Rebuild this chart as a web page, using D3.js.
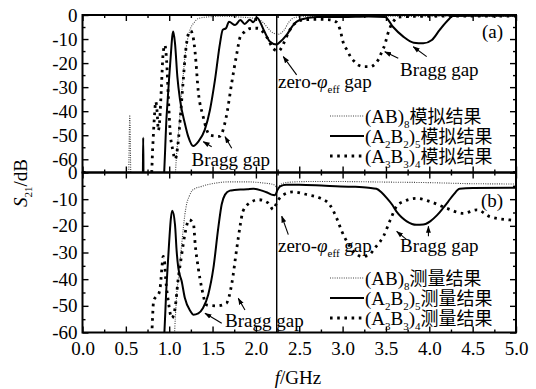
<!DOCTYPE html>
<html><head><meta charset="utf-8">
<script src="https://cdn.jsdelivr.net/npm/d3@7"></script>
<style>body{margin:0;background:#fff}svg{display:block}
svg text{font-family:"Liberation Serif","DejaVu Serif",serif;}
</style>
</head><body><svg id="c" width="536" height="389"></svg>
<script>
// ---------- DATA ----------
// (a) simulation
const simAB_f  = [0,0.53,0.545,0.56,1.06,1.085,1.105,1.125,1.144,1.162,1.182,1.21,1.24,1.29,1.34,1.45,1.6,1.8,2.0,2.08,2.14,2.2,2.26,2.32,2.38,2.45,2.6,3.0,3.5,4.0,4.5,5.0];
const simAB_db = [-70,-70,-41.6,-70,-70,-58,-50,-41,-32.6,-25,-17.3,-10.5,-6.2,-3,-1.4,-0.8,-0.5,-0.8,-1.5,-3,-5.5,-7.5,-8,-6.5,-3,-1,-0.6,-0.5,-0.5,-0.6,-0.5,-0.5];

const simA2_f  = [0,0.695,0.70,0.705,0.93,0.97,1.0,1.02,1.035,1.047,1.067,1.094,1.125,1.18,1.22,1.278,1.336,1.41,1.47,1.528,1.586,1.617,1.655,1.69,1.76,1.82,1.87,1.93,1.97,2.01,2.09,2.16,2.24,2.26,2.355,2.43,2.51,2.7,3.0,3.3,3.49,3.58,3.7,3.82,3.93,4.03,4.12,4.22,4.27,4.5,5.0];
const simA2_db = [-70,-70,-51,-70,-70,-42,-25.8,-16,-9,-6.9,-11.8,-25.6,-35.3,-45,-50.6,-54.5,-52.7,-47.8,-39.5,-27,-11.8,-6.2,-5.5,-2.8,-4.2,-2.1,-3.7,-2,-3,-1,-6.2,-11,-12.3,-11.8,-8.3,-4.2,-2,-0.8,-0.8,-0.6,-0.8,-4.9,-9,-11.5,-11.8,-10.4,-6.2,-2,-0.4,-0.3,-0.3];

const simA3_f  = [0,0.79,0.81,0.83,0.845,0.86,0.875,0.89,0.91,0.93,0.95,0.97,0.99,1.01,1.04,1.07,1.10,1.13,1.16,1.19,1.22,1.245,1.275,1.30,1.336,1.39,1.47,1.58,1.66,1.72,1.78,1.82,1.87,1.95,2.02,2.08,2.14,2.2,2.26,2.32,2.38,2.45,2.55,2.7,2.85,2.93,2.97,3.01,3.05,3.09,3.14,3.18,3.25,3.32,3.37,3.41,3.45,3.49,3.52,3.55,3.59,3.63,3.8,4.2,4.6,5.0];
const simA3_db = [-70,-70,-55,-42,-36,-40,-48,-44,-30,-16,-12.5,-19,-34,-48,-56,-60,-54,-42,-28,-15,-8,-6.5,-9,-16,-32,-42,-50,-50.5,-42,-28.5,-16,-9,-7,-5.5,-5.5,-7,-10,-14,-15,-11.8,-7,-3.5,-2,-1.8,-2,-3,-6,-11.8,-14.5,-17.3,-19.5,-20.8,-21.5,-21.5,-20.5,-18.7,-15.5,-12,-8,-5,-2.5,-1,-0.6,-0.5,-0.5,-0.5];

// (b) measurement
const meaAB_f  = [0,1.05,1.07,1.086,1.105,1.125,1.144,1.163,1.18,1.2,1.23,1.26,1.3,1.375,1.45,1.55,1.7,1.9,2.1,2.2,2.25,2.3,2.4,2.6,3.0,3.5,4.0,4.5,5.0];
const meaAB_db = [-65,-65,-55,-45.8,-40,-33.3,-27,-20.8,-16,-12,-9,-7,-6,-5.2,-4.5,-3.9,-3.5,-3.5,-4,-4.5,-5.5,-4.2,-3.6,-3.4,-3.4,-3.6,-3.8,-4.2,-4.3];

const meaA2_f  = [0,0.93,0.97,1.0,1.02,1.036,1.067,1.086,1.105,1.144,1.18,1.245,1.278,1.336,1.39,1.45,1.51,1.566,1.605,1.644,1.70,1.75,1.82,1.9,1.97,2.07,2.13,2.18,2.22,2.25,2.28,2.35,2.5,2.8,3.1,3.3,3.39,3.45,3.51,3.57,3.62,3.68,3.74,3.85,3.93,4.01,4.09,4.16,4.22,4.28,4.35,4.5,5.0];
const meaA2_db = [-65,-65,-42,-25.8,-17,-14.3,-19.6,-29.5,-35.8,-40.8,-47,-52,-53.3,-52.8,-50.8,-45.8,-35.8,-20.8,-12,-8.3,-6.8,-6.6,-6.4,-6.3,-6.1,-6.8,-7.5,-8.3,-8.5,-6.5,-5.2,-4.6,-4.6,-5,-5.3,-5.7,-6.1,-7.5,-9.6,-12,-14.6,-16.8,-18.3,-19.6,-19.5,-18.3,-16,-13.3,-10.8,-8.3,-6.1,-5.8,-5.7];

const meaA3_f  = [0,0.79,0.80,0.82,0.85,0.875,0.90,0.915,0.93,0.945,0.96,0.99,1.03,1.067,1.105,1.144,1.18,1.23,1.28,1.30,1.335,1.375,1.43,1.55,1.66,1.72,1.78,1.82,1.85,1.93,2.03,2.14,2.2,2.22,2.26,2.32,2.43,2.59,2.74,2.85,2.93,2.99,3.07,3.14,3.22,3.3,3.38,3.47,3.55,3.62,3.7,3.85,4.01,4.2,4.39,4.55,4.7,4.93,5.0];
const meaA3_db = [-65,-65,-60,-48.3,-46.5,-45.8,-42,-36,-31.5,-33,-40,-48.3,-54.6,-51,-39.6,-30.8,-23.3,-17.7,-19.3,-27,-35.8,-43.3,-49.6,-50,-49,-42,-28.3,-19.6,-14.6,-11.4,-10.2,-11.4,-13.9,-12.7,-10.2,-8.3,-7.3,-8.3,-9.6,-12,-17,-22,-27,-30,-31.5,-31,-28,-24,-17.8,-12.8,-10.9,-9.7,-10.9,-13.4,-15.3,-14,-16.6,-17.8,-18];

const xTicks = [0,0.5,1.0,1.5,2.0,2.5,3.0,3.5,4.0,4.5,5.0];
const yTicks = [0,-10,-20,-30,-40,-50,-60];
const zeroGapF = 2.24;
const legendSim = ["(AB)|8|模拟结果", "(A|2|B|2|)|5|模拟结果", "(A|3|B|3|)|4|模拟结果"];
const legendMea = ["(AB)|8|测量结果", "(A|2|B|2|)|5|测量结果", "(A|3|B|3|)|4|测量结果"];

// ---------- LAYOUT ----------
const svg = d3.select("#c");
const SERIF = '"Liberation Serif","DejaVu Serif",serif';
const CJK = '"Noto Sans CJK SC","Noto Sans CJK JP",sans-serif';
const FS = 19;
const x = d3.scaleLinear().domain([0,5]).range([82.5,516]);
const yTop = d3.scaleLinear().domain([-65.5,0]).range([172.5,15]);
const yBot = d3.scaleLinear().domain([-60,0]).range([332.5,172.5]);

const defs = svg.append("defs");
defs.append("clipPath").attr("id","clipTop").append("rect")
  .attr("x",x(0)).attr("y",yTop(0)).attr("width",x(5)-x(0)).attr("height",yTop(-65.5)-yTop(0));
defs.append("clipPath").attr("id","clipBot").append("rect")
  .attr("x",x(0)).attr("y",yBot(0)).attr("width",x(5)-x(0)).attr("height",yBot(-60)-yBot(0));
defs.append("marker").attr("id","arr").attr("viewBox","0 0 10 10").attr("refX",9).attr("refY",5)
  .attr("markerWidth",7).attr("markerHeight",7).attr("markerUnits","userSpaceOnUse").attr("orient","auto")
  .append("path").attr("d","M0,1.5L10,5L0,8.5Z").attr("fill","#000");

const zip = (a,b)=>a.map((v,i)=>[v,b[i]]);
const styles = {
  AB:{w:1.1, dash:"1,1.3", col:"#444"},
  A2:{w:2, dash:null, col:"#000"},
  A3:{w:2.8, dash:"2.6,4.6", col:"#000"}
};

function drawPanel(y, clip, series){
  const g = svg.append("g").attr("clip-path",`url(#${clip})`);
  const line = d3.line().x(d=>x(d[0])).y(d=>y(d[1])).curve(d3.curveMonotoneX);
  series.forEach(s=>{
    const st = styles[s.key];
    g.append("path").datum(zip(s.f,s.db)).attr("d",line)
      .attr("fill","none").attr("stroke",st.col).attr("stroke-width",st.w)
      .attr("stroke-dasharray",st.dash).attr("stroke-linejoin","round");
  });
}
drawPanel(yTop,"clipTop",[{key:"AB",f:simAB_f,db:simAB_db},{key:"A2",f:simA2_f,db:simA2_db},{key:"A3",f:simA3_f,db:simA3_db}]);
drawPanel(yBot,"clipBot",[{key:"AB",f:meaAB_f,db:meaAB_db},{key:"A2",f:meaA2_f,db:meaA2_db},{key:"A3",f:meaA3_f,db:meaA3_db}]);

svg.append("line").attr("x1",x(zeroGapF)).attr("x2",x(zeroGapF)).attr("y1",yTop(0)).attr("y2",yBot(-60))
  .attr("stroke","#000").attr("stroke-width",1.4);

// ---------- AXES ----------
const minorX = d3.range(0.25,5,0.5);
function styleAxis(g){ g.attr("font-family",null).attr("font-size",null);
  g.select(".domain").remove(); g.selectAll("line").attr("stroke","#000").attr("stroke-width",1.4);
  g.selectAll("text").style("font-family",SERIF).style("font-size",FS+"px").attr("fill","#000"); }
function xAxes(yPos, gen, labels){
  svg.append("g").attr("transform",`translate(0,${yPos})`)
    .call(gen(x).tickValues(xTicks).tickSizeInner(-6).tickSizeOuter(0).tickPadding(9)
      .tickFormat(labels? d3.format(".1f") : ()=>""))
    .call(styleAxis);
  svg.append("g").attr("transform",`translate(0,${yPos})`)
    .call(gen(x).tickValues(minorX).tickSizeInner(-3).tickSizeOuter(0).tickFormat(()=>""))
    .call(styleAxis);
}
xAxes(yTop(0), d3.axisTop, false);
xAxes(yTop(-65.5), d3.axisBottom, false);
xAxes(yBot(0), d3.axisTop, false);
xAxes(yBot(-60), d3.axisBottom, true);

function yAxes(y, lo){
  const minor = d3.range(-5, lo, -10);
  svg.append("g").attr("transform",`translate(${x(0)},0)`)
    .call(d3.axisLeft(y).tickValues(yTicks).tickSizeInner(-6).tickSizeOuter(0).tickPadding(5).tickFormat(d=>String(d)))
    .call(styleAxis);
  svg.append("g").attr("transform",`translate(${x(0)},0)`)
    .call(d3.axisLeft(y).tickValues(minor).tickSizeInner(-3).tickSizeOuter(0).tickFormat(()=>""))
    .call(styleAxis);
  svg.append("g").attr("transform",`translate(${x(5)},0)`)
    .call(d3.axisRight(y).tickValues(yTicks).tickSizeInner(-6).tickSizeOuter(0).tickFormat(()=>""))
    .call(styleAxis);
  svg.append("g").attr("transform",`translate(${x(5)},0)`)
    .call(d3.axisRight(y).tickValues(minor).tickSizeInner(-3).tickSizeOuter(0).tickFormat(()=>""))
    .call(styleAxis);
}
yAxes(yTop,-65.5);
yAxes(yBot,-60);

[[yTop(0),yTop(-65.5)],[yBot(0),yBot(-60)]].forEach(([t,b])=>{
  svg.append("rect").attr("x",x(0)).attr("y",t).attr("width",x(5)-x(0)).attr("height",b-t)
    .attr("fill","none").attr("stroke","#000").attr("stroke-width",2);
});

// ---------- TEXT ----------
function richText(parent, xx, yy, parts, opts={}){
  const t = parent.append("text").attr("x",xx).attr("y",yy)
    .style("font-family",SERIF).style("font-size",FS+"px").attr("fill","#000");
  if(opts.anchor) t.attr("text-anchor",opts.anchor);
  let shifted = 0;
  parts.forEach(p=>{
    const ts = t.append("tspan").text(p.t);
    const want = p.sub ? 5 : 0;
    if(want!==shifted){ ts.attr("dy", want-shifted); shifted = want; }
    if(p.sub) ts.style("font-size","11px");
    if(p.cjk) ts.style("font-family",CJK).style("font-size","18px");
    if(p.it) ts.style("font-style","italic");
  });
  return t;
}
function legendParts(s){
  return s.split("|").map((t,i)=>({t, sub: i%2===1, cjk: /[\u4e00-\u9fff]/.test(t)}));
}
function legend(rows, ys){
  const keys = ["AB","A2","A3"];
  rows.forEach((r,i)=>{
    const st = styles[keys[i]];
    svg.append("line").attr("x1",330).attr("x2",364).attr("y1",ys[i]).attr("y2",ys[i])
      .attr("stroke",st.col).attr("stroke-width",st.w).attr("stroke-dasharray",st.dash);
    richText(svg, 365, ys[i]+6.5, legendParts(r));
  });
}
legend(legendSim,[116,136,156]);
legend(legendMea,[278,298,318]);

const zeroParts = [{t:"zero-"},{t:"φ",it:1},{t:"eff",sub:1},{t:" gap"}];
function annotate(y, items){
  items.forEach(a=>{
    if(a.text) richText(svg, x(a.f), y(a.db), a.text);
    if(a.arrow){ const [f1,d1,f2,d2] = a.arrow;
      svg.append("line").attr("x1",x(f1)).attr("y1",y(d1)).attr("x2",x(f2)).attr("y2",y(d2))
        .attr("stroke","#000").attr("stroke-width",1.1).attr("marker-end","url(#arr)"); }
  });
}
annotate(yTop,[
  {text:[{t:"Bragg gap"}], f:1.257, db:-62.8},
  {arrow:[1.49,-54.8,1.393,-52.7]},
  {arrow:[1.721,-55.4,1.644,-50.6]},
  {text:zeroParts, f:2.255, db:-30.4},
  {arrow:[2.47,-24.9,2.316,-17.3]},
  {text:[{t:"Bragg gap"}], f:3.662, db:-25.4},
  {arrow:[3.642,-18,3.487,-15.3]},
  {arrow:[3.97,-17.3,3.815,-13.2]},
  {text:[{t:"(a)"}], f:4.608, db:-9.6}
]);
annotate(yBot,[
  {text:[{t:"Bragg gap"}], f:1.644, db:-57.9},
  {arrow:[1.606,-56.5,1.413,-52.8]},
  {arrow:[1.874,-51.6,1.797,-47.2]},
  {text:zeroParts, f:2.255, db:-29.8},
  {arrow:[2.374,-23.3,2.298,-16.4]},
  {text:[{t:"Bragg gap"}], f:3.662, db:-29.8},
  {arrow:[3.739,-25.2,3.624,-22.1]},
  {arrow:[3.99,-23.9,3.99,-20.2]},
  {text:[{t:"(b)"}], f:4.596, db:-12.9}
]);

const yl = svg.append("text").attr("transform","translate(27,183) rotate(-90)")
  .attr("text-anchor","middle").style("font-family",SERIF).style("font-size",FS+"px");
yl.append("tspan").style("font-style","italic").text("S");
yl.append("tspan").style("font-size","11px").attr("dy",5).text("21");
yl.append("tspan").attr("dy",-5).text("/dB");
const xl = svg.append("text").attr("x",298).attr("y",384).attr("text-anchor","middle")
  .style("font-family",SERIF).style("font-size",FS+"px");
xl.append("tspan").style("font-style","italic").text("f");
xl.append("tspan").text("/GHz");
</script></body></html>
